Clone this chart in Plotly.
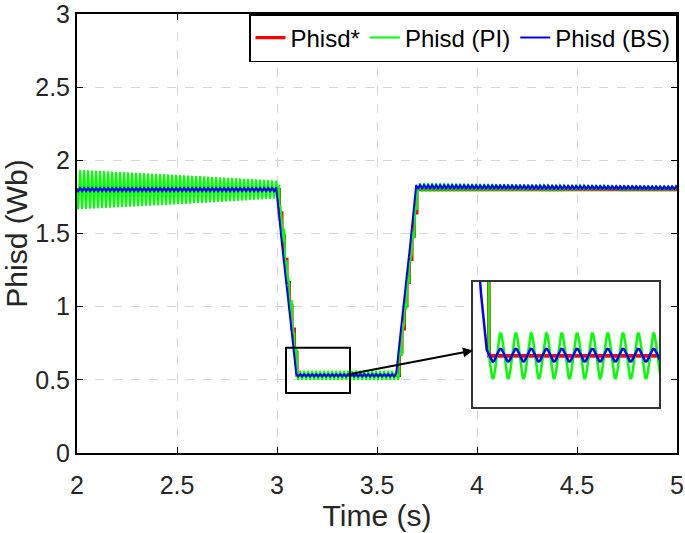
import numpy as np
import plotly.graph_objects as go

# ---------------- data ----------------
sample_rate = 2000                      # samples per second
time_span = [2.0, 5.0]

# reference flux (staircase ramps)
ref_time = [2.0, 3.0, 3.1, 3.6, 3.7, 5.0]
ref_flux = [1.8, 1.8, 0.53, 0.53, 1.8, 1.8]
ref_step = 0.0125                       # width of one stair on the ramps (s)

# oscillation common to both controllers
osc_freq = 50.0                         # Hz
osc_trough_time = 3.105                 # a trough of the PI ripple (s)

# PI controller: ripple amplitude envelope and offset
pi_env_time = [2.0, 2.5, 3.0, 3.1, 3.6, 3.7, 4.3, 5.0]
pi_env_amp = [0.135, 0.10, 0.06, 0.03, 0.03, 0.028, 0.02, 0.015]
pi_off_time = [2.0, 3.0, 3.1, 3.6, 3.7, 5.0]
pi_off_val = [0.0, 0.0, 0.0, 0.0, 0.015, 0.01]

# BS controller: small ripple, slight lead on the reference
bs_lead = 0.004
bs_env_time = [2.0, 3.0, 3.1, 3.6, 3.7, 5.0]
bs_env_amp = [0.012, 0.012, 0.0085, 0.0085, 0.012, 0.01]
bs_off_time = [2.0, 3.0, 3.1, 3.6, 3.7, 5.0]
bs_off_val = [0.0, 0.0, 0.001, 0.001, 0.02, 0.012]

# tick labels
x_ticks = [2, 2.5, 3, 3.5, 4, 4.5, 5]
x_labels = ["2", "2.5", "3", "3.5", "4", "4.5", "5"]
y_ticks = [0, 0.5, 1, 1.5, 2, 2.5, 3]
y_labels = ["0", "0.5", "1", "1.5", "2", "2.5", "3"]

# ---------------- build the signals ----------------
t = np.arange(time_span[0], time_span[1] + 1e-9, 1.0 / sample_rate)
phase = -np.pi / 2 - 2 * np.pi * osc_freq * osc_trough_time
ripple = np.sin(2 * np.pi * osc_freq * t + phase)

stair_t = np.floor(t / ref_step + 1e-9) * ref_step
phisd_ref = np.interp(stair_t, ref_time, ref_flux)

phisd_pi = (np.interp(stair_t, ref_time, ref_flux)
            + np.interp(t, pi_env_time, pi_env_amp) * ripple
            + np.interp(t, pi_off_time, pi_off_val))

phisd_bs = (np.interp(t + bs_lead, ref_time, ref_flux)
            + np.interp(t, bs_env_time, bs_env_amp) * ripple
            + np.interp(t, bs_off_time, bs_off_val))

# ---------------- figure ----------------
RED, GREEN, BLUE = "#ff0000", "#00ff00", "#0000ff"
FONT = "Liberation Sans, Arial, Helvetica, sans-serif"
TXT = "#262626"

fig = go.Figure()
series = [("Phisd*", phisd_ref, RED, 3.2),
          ("Phisd (PI)", phisd_pi, GREEN, 2.0),
          ("Phisd (BS)", phisd_bs, BLUE, 2.0)]
for name, y, col, w in series:
    fig.add_trace(go.Scatter(x=t, y=y, mode="lines", name=name,
                             line=dict(color=col, width=w),
                             xaxis="x", yaxis="y"))
for name, y, col, w in series:
    fig.add_trace(go.Scatter(x=t, y=y, mode="lines", name=name,
                             line=dict(color=col, width=w + 0.5),
                             showlegend=False, xaxis="x2", yaxis="y2"))

main_axis = dict(showline=True, linecolor="black", linewidth=2, mirror="ticks",
                 ticks="inside", ticklen=6, tickwidth=1.2, tickcolor="black",
                 showgrid=True, gridcolor="#d6d6d6", griddash="dash", gridwidth=1,
                 zeroline=False, automargin=False, ticklabeloverflow="allow",
                 tickfont=dict(family=FONT, size=25, color=TXT),
                 title_font=dict(family=FONT, size=30, color=TXT))

fig.update_layout(
    width=685, height=533,
    margin=dict(l=77, r=8, t=14, b=80),
    paper_bgcolor="white", plot_bgcolor="white",
    xaxis=dict(main_axis, range=[2, 5], tickvals=x_ticks, ticktext=x_labels,
               ticklabelstandoff=9,
               title=dict(text="Time (s)", standoff=4)),
    yaxis=dict(main_axis, range=[0, 3], tickvals=y_ticks, ticktext=y_labels,
               title=dict(text="Phisd (Wb)", standoff=4)),
    xaxis2=dict(domain=[0.66, 0.97], anchor="y2", range=[3.079, 3.322],
                showline=True, linecolor="#333333", linewidth=2, mirror=True,
                showgrid=False, zeroline=False, showticklabels=False, ticks=""),
    yaxis2=dict(domain=[0.104, 0.39], anchor="x2", range=[0.462, 0.628],
                showline=True, linecolor="#333333", linewidth=2, mirror=True,
                showgrid=False, zeroline=False, showticklabels=False, ticks=""),
    legend=dict(orientation="h", x=1, xanchor="right", y=1, yanchor="top",
                bgcolor="white", bordercolor="black", borderwidth=1.5,
                font=dict(family=FONT, size=24, color="black"),
                itemwidth=30, tracegroupgap=0),
    showlegend=True,
)

fig.add_shape(type="rect", xref="x2 domain", yref="y2 domain", x0=0, x1=1, y0=0, y1=1,
              fillcolor="white", line=dict(width=0), layer="below")
fig.add_shape(type="rect", xref="x", yref="y", x0=3.045, x1=3.365, y0=0.41, y1=0.72,
              line=dict(color="black", width=2))
fig.add_annotation(x=3.98, y=0.70, ax=3.365, ay=0.54, xref="x", yref="y",
                   axref="x", ayref="y", showarrow=True, arrowhead=2, arrowsize=1,
                   arrowwidth=2, arrowcolor="black", text="")

fig.write_html("out.html", config={"displayModeBar": False},
               post_script="document.body.style.margin='0';document.body.style.overflow='hidden';")
